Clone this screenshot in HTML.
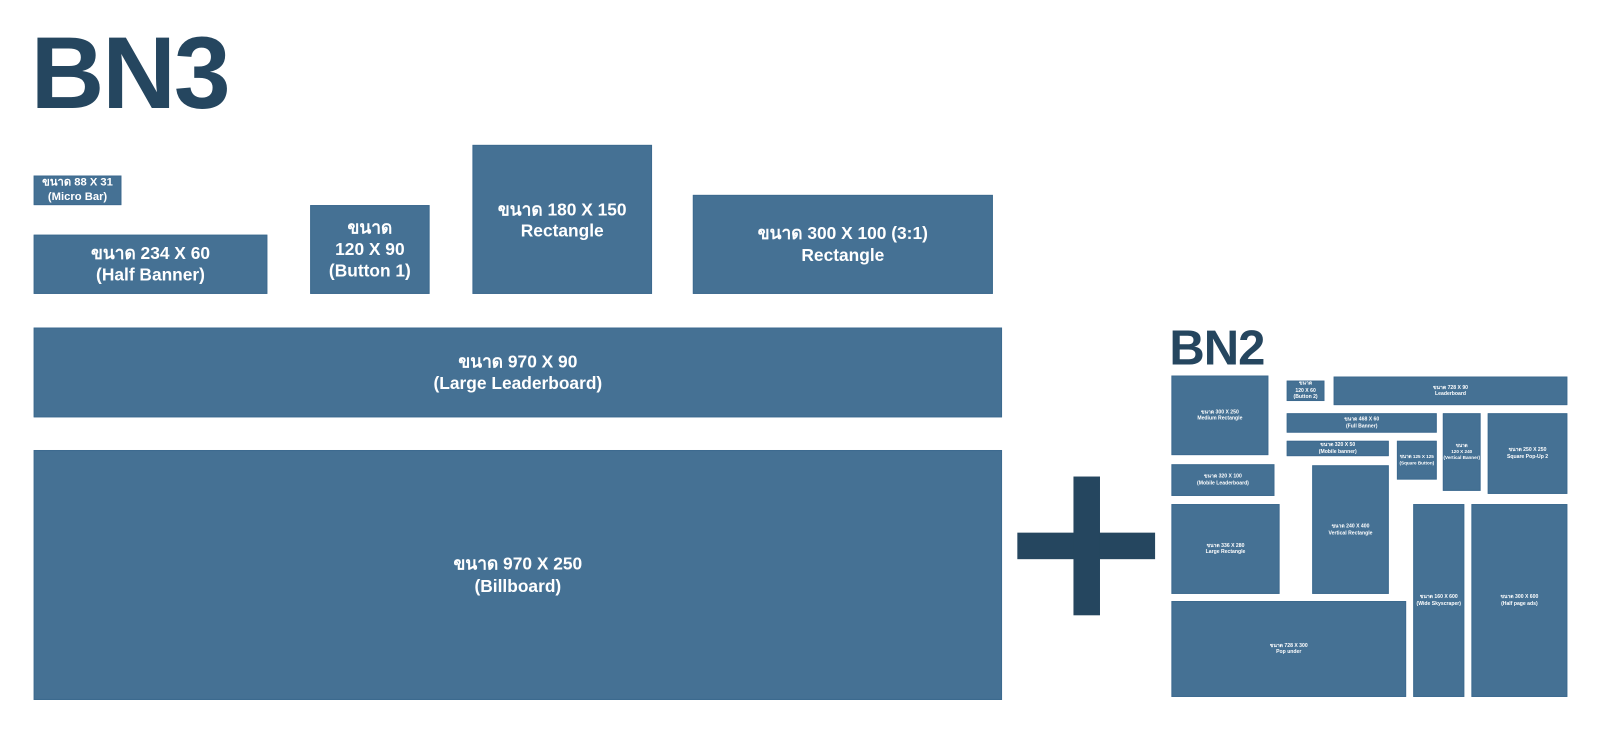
<!DOCTYPE html>
<html><head><meta charset="utf-8"><style>
body{margin:0;width:1600px;height:737px;background:#fff;position:relative;overflow:hidden;font-family:"Liberation Sans","Noto Sans CJK SC",sans-serif}
#w{position:absolute;left:0;top:0;width:1568px;height:722px;transform:scale(1.0204);transform-origin:0 0}
.b{position:absolute;background:#457194;border:1px solid #3d6a8f;box-sizing:border-box;color:#fff;display:flex;align-items:center;justify-content:center;text-align:center;font-weight:bold;line-height:1.25}
.s{font-size:5px;line-height:1.3;white-space:nowrap}
.t{position:absolute;color:#25465f;font-weight:bold;font-family:"Liberation Sans",sans-serif;letter-spacing:-2px}
.p{position:absolute;background:#25465f}
</style></head><body><div id="w">
<div class="t" style="left:30px;top:22px;font-size:100px;line-height:100px">BN3</div>
<div class="t" style="left:1146px;top:318px;font-size:48px;line-height:48px;letter-spacing:-1px">BN2</div>

<div class="b" style="left:33px;top:172px;width:86px;height:29px;font-size:11px;line-height:1.2">ขนาด 88 X 31<br>(Micro Bar)</div>
<div class="b" style="left:33px;top:230px;width:229px;height:58px;font-size:17px">ขนาด 234 X 60<br>(Half Banner)</div>
<div class="b" style="left:304px;top:201px;width:117px;height:87px;font-size:17px">ขนาด<br>120 X 90<br>(Button 1)</div>
<div class="b" style="left:463px;top:142px;width:176px;height:146px;font-size:17px;align-items:flex-start;padding-top:52px">ขนาด 180 X 150<br>Rectangle</div>
<div class="b" style="left:679px;top:191px;width:294px;height:97px;font-size:17px">ขนาด 300 X 100 (3:1)<br>Rectangle</div>
<div class="b" style="left:33px;top:321px;width:949px;height:88px;font-size:17px">ขนาด 970 X 90<br>(Large Leaderboard)</div>
<div class="b" style="left:33px;top:441px;width:949px;height:245px;font-size:17px">ขนาด 970 X 250<br>(Billboard)</div>

<div class="p" style="left:997px;top:522px;width:135px;height:26px"></div>
<div class="p" style="left:1052px;top:467px;width:26px;height:136px"></div>

<div class="b s" style="left:1148px;top:368px;width:95px;height:78px">ขนาด 300 X 250<br>Medium Rectangle</div>
<div class="b s" style="left:1261px;top:373px;width:37px;height:20px">ขนาด<br>120 X 60<br>(Button 2)</div>
<div class="b s" style="left:1307px;top:369px;width:229px;height:28px">ขนาด 728 X 90<br>Leaderboard</div>
<div class="b s" style="left:1261px;top:405px;width:147px;height:19px">ขนาด 468 X 60<br>(Full Banner)</div>
<div class="b s" style="left:1261px;top:432px;width:100px;height:15px">ขนาด 320 X 50<br>(Mobile banner)</div>
<div class="b s" style="left:1369px;top:432px;width:39px;height:38px;font-size:4.5px">ขนาด 125 X 125<br>(Square Button)</div>
<div class="b s" style="left:1414px;top:405px;width:37px;height:76px;font-size:4.5px">ขนาด<br>120 X 240<br>(Vertical Banner)</div>
<div class="b s" style="left:1458px;top:405px;width:78px;height:79px">ขนาด 250 X 250<br>Square Pop-Up 2</div>
<div class="b s" style="left:1148px;top:455px;width:101px;height:31px">ขนาด 320 X 100<br>(Mobile Leaderboard)</div>
<div class="b s" style="left:1148px;top:494px;width:106px;height:88px">ขนาด 336 X 280<br>Large Rectangle</div>
<div class="b s" style="left:1286px;top:456px;width:75px;height:126px;align-items:flex-start;padding-top:56px">ขนาด 240 X 400<br>Vertical Rectangle</div>
<div class="b s" style="left:1385px;top:494px;width:50px;height:189px">ขนาด 160 X 600<br>(Wide Skyscraper)</div>
<div class="b s" style="left:1442px;top:494px;width:94px;height:189px">ขนาด 300 X 600<br>(Half page ads)</div>
<div class="b s" style="left:1148px;top:589px;width:230px;height:94px">ขนาด 728 X 300<br>Pop under</div>
</div></body></html>
